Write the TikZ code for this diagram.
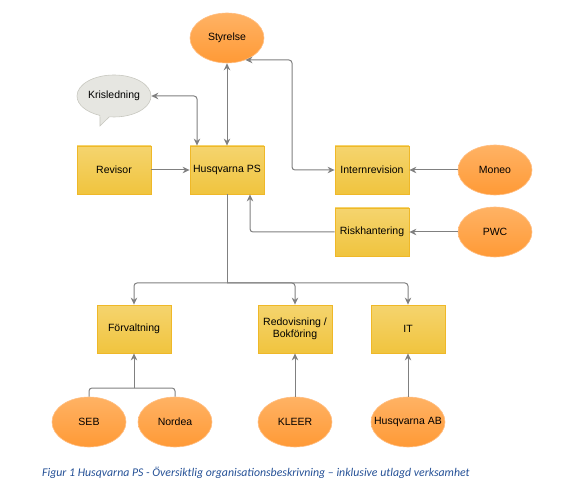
\documentclass[tikz,border=0pt]{standalone}
\usepackage{fontspec}
\setmainfont{Liberation Sans}
\newfontfamily\capfont{Carlito}
\usetikzlibrary{arrows.meta,positioning,shapes.geometric,shapes.callouts}
\definecolor{boxtop}{RGB}{245,212,110}
\definecolor{boxbot}{RGB}{240,196,62}
\definecolor{boxline}{RGB}{239,184,40}
\definecolor{ovaltop}{RGB}{255,178,100}
\definecolor{ovalbot}{RGB}{255,154,54}
\definecolor{ovalline}{RGB}{255,190,130}
\definecolor{linkgray}{RGB}{128,128,128}
\definecolor{capblue}{RGB}{36,80,150}
\begin{document}
\begin{tikzpicture}[x=1pt,y=-1pt,>={Stealth[length=7pt,width=6.5pt]},
    box/.style={draw=boxline,line width=0.8pt,top color=boxtop,bottom color=boxbot,minimum width=74pt,minimum height=48pt,inner sep=1pt,align=center,font=\fontsize{10.5}{12}\selectfont},
    oval/.style={ellipse,draw=ovalline,line width=0.6pt,top color=ovaltop,bottom color=ovalbot,minimum width=74pt,minimum height=50pt,inner sep=0pt,font=\fontsize{10.5}{12}\selectfont},
    link/.style={draw=linkgray,line width=1pt,rounded corners=3pt}]
\useasboundingbox (0,0) rectangle (563,492);
\node[oval](styrelse) at (227,38){Styrelse};
\node[ellipse callout,draw={rgb,255:red,200;green,200;blue,192},line width=0.6pt,fill={rgb,255:red,230;green,230;blue,225},minimum width=74pt,minimum height=42pt,inner sep=0pt,callout absolute pointer={(100,126)},font=\fontsize{10.5}{12}\selectfont](kris) at (114,96){Krisledning};
\node[box](revisor) at (114,170){Revisor};
\node[box](hps) at (227,170){Husqvarna PS};
\node[box](internrev) at (372,170){Internrevision};
\node[oval](moneo) at (495,170){Moneo};
\node[box](risk) at (372,232){Riskhantering};
\node[oval](pwc) at (495,232){PWC};
\node[box](forv) at (134,329){Förvaltning};
\node[box](redov) at (295,329){Redovisning /\\Bokföring};
\node[box](it) at (408,329){IT};
\node[oval](seb) at (89,422){SEB};
\node[oval](nordea) at (175,422){Nordea};
\node[oval](kleer) at (295,422){KLEER};
\node[oval,inner xsep=-8pt](hab) at (408,422){Husqvarna AB};
\node[anchor=west,inner sep=0pt,text=capblue,font=\capfont\itshape\fontsize{11.8}{14}\selectfont](caption) at (42,473){Figur 1 Husqvarna PS - Översiktlig organisationsbeskrivning – inklusive utlagd verksamhet};
% kopplingar
\coordinate(irbend) at (292,170);
\coordinate(bus) at (227,283);
\coordinate(fjoin) at (134,388);
\path[link,->](revisor)--(hps);
\path[link,<->](styrelse)--(hps);
\path[link,<->]([xshift=-30pt]hps.north)|-(kris.east);
\path[link,<->](styrelse.-50)-|(irbend)--(internrev.west);
\path[link,->](moneo)--(internrev);
\path[link,->](pwc)--(risk);
\path[link,->](risk.west)-|([xshift=23pt]hps.south);
\path[link](hps.south)--(bus);
\path[link,->](bus)-|(forv.north);
\path[link,->](bus)-|(redov.north);
\path[link,->](bus)-|(it.north);
\path[link](seb.north)|-(fjoin);
\path[link](nordea.north)|-(fjoin);
\path[link,->](fjoin)--(forv.south);
\path[link,->](kleer)--(redov);
\path[link,->](hab)--(it);
\end{tikzpicture}
\end{document}
